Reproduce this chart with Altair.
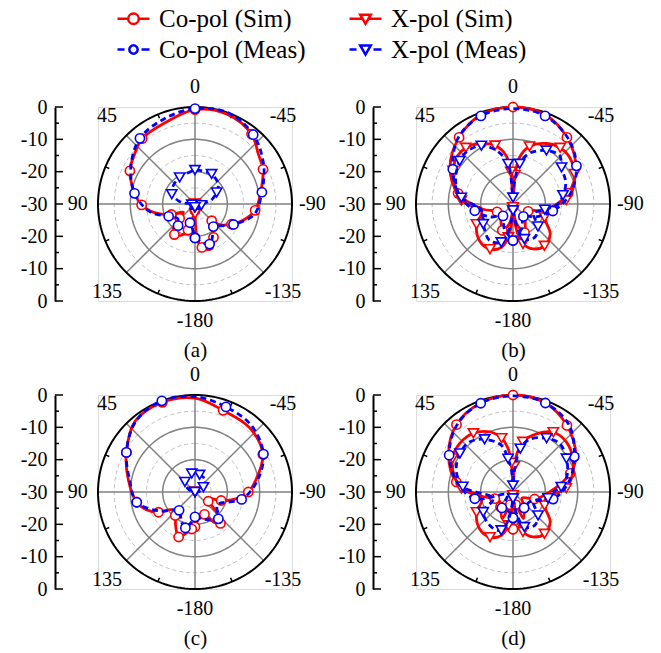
import altair as alt
import pandas as pd

FONT = "Liberation Serif, Times New Roman, Times, serif"
RED = "#ff0000"
BLUE = "#0000ff"
GRAY = "#808080"
LIGHT = "#c0c0c0"

SERIES = ["Co-pol (Sim)", "X-pol (Sim)", "Co-pol (Meas)", "X-pol (Meas)"]
PANEL_LABELS = ["(a)", "(b)", "(c)", "(d)"]

# ---------------- panel (a) ----------------
A_CO_SIM_ANG = [-180, -176, -171, -160, -151, -140, -135, -130, -119, -110, -96, -80, -63, -52, -39, -20, 0,
                20, 39, 50, 63, 80, 91, 102, 114, 125, 133, 138, 146, 157, 165, 171, 180]
A_CO_SIM_DB = [-28, -19, -16.4, -15.2, -18.2, -22, -22.7, -20, -17.1, -14.6, -11.3, -9.4, -6.4, -5.1, -2.2, -0.5, -0.8,
               -3.2, -4, -5.7, -7.4, -11.1, -13.5, -17.2, -22, -25.6, -23.5, -20, -18.6, -19.5, -21.7, -25.8, -28]
A_CO_MEAS_ANG = [-180, -170, -160, -150, -141, -130, -118, -100, -80, -60, -40, -20, 0, 20, 40, 59, 80, 100, 115,
                 130, 142, 155, 165, 175, 180]
A_CO_MEAS_DB = [-19.5, -18, -16.8, -19, -21, -19.5, -16.5, -11.4, -9, -5.5, -2, 0, -0.5, -2, -3.5, -6.9, -11, -15.9,
                -21, -23, -21.5, -22, -24, -22, -19.5]
A_X_SIM_ANG = [-180, -150, -120, -90, -60, -30, 0, 30, 60, 90, 120, 150, 170, 180]
A_X_SIM_DB = [-27, -30, -30, -30, -30, -30, -30, -30, -30, -30, -30, -30, -29, -27]
A_X_MEAS_ANG = [-180, -135, -100, -75, -62, -49, -29, -10, 0, 10, 30, 50, 67, 83, 100, 135, 180]
A_X_MEAS_DB = [-29, -28, -28, -24.6, -22.4, -20.5, -19.4, -19.5, -19.5, -20, -20.5, -21.2, -22.2, -25.7, -29, -28, -29]

# ---------------- panel (b) ----------------
B_CO_SIM_ANG = [-180, -170, -158, -140, -116, -100, -79, -60, -39, -20, 0, 20, 39, 60, 79, 100, 116, 140, 158, 170, 180]
B_CO_SIM_DB = [-29, -24, -20.5, -24, -24.8, -19.5, -12.6, -7.5, -3.5, -0.7, 0, -0.7, -3.5, -7.5, -12.7, -20.6, -24.5,
               -24, -21.2, -24, -29]
B_CO_MEAS_ANG = [-180, -160, -140, -120, -100, -80, -59, -40, -20, 0, 20, 40, 60, 80, 100, 120, 140, 160, 180]
B_CO_MEAS_DB = [-18.7, -22, -25, -22, -17.5, -12, -7.1, -3.5, -1, -0.5, -1, -3.5, -8.5, -13, -18, -22, -25.2, -22, -18.7]
B_X_SIM_ANG = [-180, -172, -166, -156, -143, -129, -113, -100, -86, -76, -64, -50, -40, -29, -16, -8, -4, 0, 4, 8,
               17, 29, 40, 49, 61, 74, 86, 104, 119, 138, 153, 165, 172, 177, 180]
B_X_SIM_DB = [-29, -21.7, -17.3, -14.8, -13.8, -15.2, -19.4, -19.5, -13.5, -10.9, -8.8, -7.3, -7.3, -8.6, -11.5, -15.4,
              -21, -29, -20, -14.9, -11.1, -8.6, -7.3, -7.3, -8.8, -11.2, -14, -20, -17.1, -14.6, -14.3, -16.1, -19.6,
              -25, -29]
B_X_MEAS_ANG = [-180, -170, -162, -147, -132, -115, -100, -90, -80, -68, -53, -44, -32, -18, -9.5, -4, 0, 4, 7, 17,
                28.5, 40, 51, 69, 83, 100, 124, 147, 163, 171, 180]
B_X_MEAS_DB = [-28, -22.7, -18.6, -17.7, -19.6, -23, -20, -16.1, -14.3, -12.4, -11.2, -9.2, -10.5, -13.5, -17.4, -23,
               -28, -23, -17.5, -12.7, -9.5, -8.4, -8.8, -11, -13.9, -20, -18.9, -16.6, -17.6, -21.7, -28]

# ---------------- panel (c) ----------------
C_CO_SIM_ANG = [-180, -170, -157, -148, -141, -133, -125, -117, -108, -100, -90, -80, -61, -40, -19, 0, 20, 40, 60,
                80, 100, 110, 119, 128, 140, 150, 160, 168, 175, 180]
C_CO_SIM_DB = [-19.2, -22, -22.5, -19, -17.5, -21, -25, -26, -21.5, -17.4, -13.5, -11.1, -6, -3.9, -3.3, -1, -0.5,
               -1.3, -5.5, -9.1, -11.7, -14, -17.1, -21, -20.5, -18, -15.2, -17, -18.5, -19.2]
C_CO_MEAS_ANG = [-180, -160, -139, -120, -99, -80, -61, -40, -20, 0, 20, 40, 60, 80, 100, 118, 139, 155, 165, 180]
C_CO_MEAS_DB = [-22.3, -21, -19, -22, -15.4, -10.5, -5.8, -3, -2, -0.5, 0, -1.5, -5.5, -9.5, -11.7, -17.5, -22.5,
                -20, -18.5, -22.3]
C_X_SIM_ANG = [-180, -120, -60, 0, 60, 120, 180]
C_X_SIM_DB = [-30, -30, -30, -29, -30, -30, -30]
C_X_MEAS_ANG = [-180, -90, -60, -38, -15, 0, 10, 30, 45, 70, 100, 180]
C_X_MEAS_DB = [-30, -29, -27, -25, -24.5, -24.3, -24.2, -25, -25.6, -28, -30, -30]

# ---------------- panel (d) ----------------
D_CO_SIM_ANG = [-180, -174, -168, -159, -145, -123, -108, -91, -72, -60, -39, -20, 0, 20, 40, 60, 80, 97, 110, 120,
                140, 158, 168, 174, 180]
D_CO_SIM_DB = [-18.5, -24, -26, -21.2, -24, -26.6, -23, -19, -11.4, -7.5, -3.5, -0.7, 0, -0.7, -2.8, -7, -12.2, -20,
               -24, -25, -24, -21.1, -26, -24, -18.5]
D_CO_MEAS_ANG = [-180, -165, -145, -120, -100, -80, -60, -40, -20, 0, 20, 40, 60, 80, 100, 117, 145, 165, 180]
D_CO_MEAS_DB = [-22, -24, -24, -24, -17.4, -12.5, -8.1, -3, -0.7, -0.3, -0.8, -3, -7.2, -12.5, -18, -28, -24, -24, -22]
D_X_SIM_ANG = [-180, -172, -166, -156, -143, -129, -113, -100, -86, -74, -61, -47, -34, -22, -11, -6, -3, 0, 3, 7,
               12, 21, 34, 48, 61, 76, 86, 104, 119, 138, 153, 165, 172, 177, 180]
D_X_SIM_DB = [-29, -21.7, -17.3, -14.8, -13.8, -15.2, -19.4, -19.5, -13.5, -10.9, -8.8, -7.4, -7.7, -10.6, -14.2, -18,
              -22, -29, -21, -16, -13, -10.1, -8.1, -7.7, -8.6, -11.4, -14, -20, -17.1, -14.6, -14.3, -16.1, -19.6,
              -25, -29]
D_X_MEAS_ANG = [-180, -170, -162, -147, -133, -115, -100, -90, -84, -73, -58, -44, -32, -17.6, -9.6, -4, 0, 4, 8.5,
                14, 28.3, 41, 54, 69, 84, 108, 124, 148, 163, 171, 180]
D_X_MEAS_DB = [-28, -22.7, -18.6, -17.7, -19.4, -23, -19, -17.6, -15, -12.5, -10.5, -9.2, -10.4, -12.9, -16.4, -23,
               -28, -23, -19.6, -15.1, -11.5, -9.5, -9.7, -11.2, -14.4, -23.5, -18.9, -17.3, -17.6, -21.7, -28]

PANEL_DATA = [
    {"Co-pol (Sim)": (A_CO_SIM_ANG, A_CO_SIM_DB), "X-pol (Sim)": (A_X_SIM_ANG, A_X_SIM_DB),
     "Co-pol (Meas)": (A_CO_MEAS_ANG, A_CO_MEAS_DB), "X-pol (Meas)": (A_X_MEAS_ANG, A_X_MEAS_DB)},
    {"Co-pol (Sim)": (B_CO_SIM_ANG, B_CO_SIM_DB), "X-pol (Sim)": (B_X_SIM_ANG, B_X_SIM_DB),
     "Co-pol (Meas)": (B_CO_MEAS_ANG, B_CO_MEAS_DB), "X-pol (Meas)": (B_X_MEAS_ANG, B_X_MEAS_DB)},
    {"Co-pol (Sim)": (C_CO_SIM_ANG, C_CO_SIM_DB), "X-pol (Sim)": (C_X_SIM_ANG, C_X_SIM_DB),
     "Co-pol (Meas)": (C_CO_MEAS_ANG, C_CO_MEAS_DB), "X-pol (Meas)": (C_X_MEAS_ANG, C_X_MEAS_DB)},
    {"Co-pol (Sim)": (D_CO_SIM_ANG, D_CO_SIM_DB), "X-pol (Sim)": (D_X_SIM_ANG, D_X_SIM_DB),
     "Co-pol (Meas)": (D_CO_MEAS_ANG, D_CO_MEAS_DB), "X-pol (Meas)": (D_X_MEAS_ANG, D_X_MEAS_DB)},
]

# grid / axis values
RADIAL_MAJOR = [-30, -20, -10, 0, 10, 20, 30]
RADIAL_MINOR = [-25, -15, -5, 5, 15, 25]
RING_DASHED = [-25, -15, -5]
RING_SOLID = [-20, -10]
RING_OUTER = [0]
SPOKE_ANGLES = [0, 45, 90, 135, 180, 225, 270, 315]
OUTER_TICK_ANGLES = [22.5, 67.5, 112.5, 157.5, 202.5, 247.5, 292.5, 337.5]
ANGLE_TICKS = [0, 45, 90, 135, 180, -135, -90, -45]
ANGLE_TEXT = ["0", "45", "90", "135", "-180", "-135", "-90", "-45"]

STYLE = {
    "Co-pol (Sim)": dict(color=RED, dash=None, shape="circle", size=85),
    "X-pol (Sim)": dict(color=RED, dash=None, shape="triangle-down", size=105),
    "Co-pol (Meas)": dict(color=BLUE, dash=[6, 4], shape="circle", size=85),
    "X-pol (Meas)": dict(color=BLUE, dash=[6, 4], shape="triangle-down", size=105),
}
LEGEND_PATHS = [
    "M-1,0L-0.33,0M0.33,0L1,0M0.33,0A0.33,0.33 0 1 1 -0.33,0A0.33,0.33 0 1 1 0.33,0Z",
    "M-1,0L-0.2,0M0.2,0L1,0M-0.33,-0.25L0.33,-0.25L0,0.32Z",
    "M-1,0L-0.56,0M0.5,0L1,0M0.26,0A0.26,0.26 0 1 1 -0.26,0A0.26,0.26 0 1 1 0.26,0Z",
    "M-1,0L-0.56,0M0.5,0L1,0M-0.33,-0.25L0.33,-0.25L0,0.32Z",
]

ring_rows = []
for lvl in RING_DASHED + RING_SOLID + RING_OUTER:
    kind = "dashed" if lvl in RING_DASHED else ("solid" if lvl in RING_SOLID else "outer")
    for a in range(0, 361, 2):
        ring_rows.append({"level": lvl, "kind": kind, "ang": a})
ring_df = pd.DataFrame(ring_rows)
spoke_df = pd.DataFrame({"ang": SPOKE_ANGLES})
otick_df = pd.DataFrame({"ang": OUTER_TICK_ANGLES})
angle_df = pd.DataFrame({"ang": ANGLE_TICKS, "text": ANGLE_TEXT})
major_df = pd.DataFrame({"v": RADIAL_MAJOR})
minor_df = pd.DataFrame({"v": RADIAL_MINOR})


def polar(chart, rexpr):
    return chart.transform_calculate(
        r=rexpr,
        x="-datum.r * sin(datum.ang * PI / 180)",
        y="datum.r * cos(datum.ang * PI / 180)",
    )


def panel(idx):
    yaxis = alt.Axis(values=RADIAL_MAJOR, labelExpr="abs(datum.value) - 30", orient="left", offset=43,
                     ticks=False, domain=True, domainColor="black", domainWidth=2, labelPadding=8,
                     labelFont=FONT, labelFontSize=20, labelColor="black", grid=False, title=None,
                     labelOverlap=False)
    xaxis = alt.Axis(title=PANEL_LABELS[idx], orient="bottom", labels=False, ticks=False, domain=False,
                     grid=False, titlePadding=38, titleFont=FONT, titleFontSize=21, titleFontWeight="normal",
                     titleColor="black")

    def X(f):
        return alt.X(f, type="quantitative", scale=alt.Scale(domain=[-30, 30], nice=False, zero=False), axis=xaxis)

    def Y(f):
        return alt.Y(f, type="quantitative", scale=alt.Scale(domain=[-30, 30], nice=False, zero=False), axis=yaxis)

    layers = []
    rings = polar(alt.Chart(ring_df), "datum.level + 30")
    layers.append(rings.transform_filter("datum.kind == 'dashed'").mark_line(
        color=LIGHT, strokeWidth=1, strokeDash=[4, 3]).encode(
        x=X("x"), y=Y("y"), detail="level:N", order="ang:Q"))
    layers.append(rings.transform_filter("datum.kind == 'solid'").mark_line(
        color=GRAY, strokeWidth=1.5).encode(x=X("x"), y=Y("y"), detail="level:N", order="ang:Q"))
    layers.append(alt.Chart(spoke_df).transform_calculate(
        x0="0", y0="0", x1="-30 * sin(datum.ang * PI / 180)", y1="30 * cos(datum.ang * PI / 180)"
    ).mark_rule(color=GRAY, strokeWidth=1.5).encode(x=X("x0"), y=Y("y0"), x2="x1:Q", y2="y1:Q"))
    layers.append(rings.transform_filter("datum.kind == 'outer'").mark_line(
        color="black", strokeWidth=2).encode(x=X("x"), y=Y("y"), detail="level:N", order="ang:Q"))
    layers.append(alt.Chart(otick_df).transform_calculate(
        x0="-28.7 * sin(datum.ang * PI / 180)", y0="28.7 * cos(datum.ang * PI / 180)",
        x1="-30 * sin(datum.ang * PI / 180)", y1="30 * cos(datum.ang * PI / 180)"
    ).mark_rule(color="black", strokeWidth=1.5).encode(x=X("x0"), y=Y("y0"), x2="x1:Q", y2="y1:Q"))
    layers.append(alt.Chart(major_df).mark_rule(color="black", strokeWidth=1.5).encode(
        y=Y("v:Q"), x=alt.value(-43), x2=alt.value(-35)))
    layers.append(alt.Chart(minor_df).mark_rule(color="black", strokeWidth=1.5).encode(
        y=Y("v:Q"), x=alt.value(-43), x2=alt.value(-39)))
    layers.append(polar(alt.Chart(angle_df), "36.3 + 2.2 * abs(sin(2 * datum.ang * PI / 180))").mark_text(
        font=FONT, fontSize=20, color="black", align="center", baseline="middle").encode(
        x=X("x"), y=Y("y"), text="text:N"))

    rows = []
    for s in SERIES:
        angs, dbs = PANEL_DATA[idx][s]
        for i, (a, d) in enumerate(zip(angs, dbs)):
            rows.append({"series": s, "i": i, "ang": a, "db": d})
    sdf = pd.DataFrame(rows)
    for s in SERIES:
        st = STYLE[s]
        base = polar(alt.Chart(sdf).transform_filter(alt.datum.series == s), "max(datum.db + 30, 0)")
        lk = dict(color=st["color"], strokeWidth=2.8, interpolate="catmull-rom")
        if st["dash"]:
            lk["strokeDash"] = st["dash"]
        layers.append(base.mark_line(**lk).encode(x=X("x"), y=Y("y"), order="i:Q"))
        layers.append(base.transform_filter("datum.i % 2 == 0").mark_point(
            shape=st["shape"], size=st["size"], filled=True, fill="white", stroke=st["color"],
            strokeWidth=1.6, opacity=1).encode(x=X("x"), y=Y("y")))

    if idx == 0:
        leg = alt.Legend(orient="none", legendX=18, legendY=-106, columns=2, direction="horizontal",
                         title=None, labelFont=FONT, labelFontSize=25, labelColor="black", symbolSize=1024,
                         symbolStrokeWidth=2.5, labelOffset=8, columnPadding=38, rowPadding=-2,
                         padding=0, gridAlign="all", labelLimit=400)
        layers.append(alt.Chart(pd.DataFrame({"series": SERIES})).transform_filter("false").mark_point(
            filled=False, opacity=1).encode(
            shape=alt.Shape("series:N", scale=alt.Scale(domain=SERIES, range=LEGEND_PATHS), legend=leg),
            color=alt.Color("series:N", scale=alt.Scale(domain=SERIES, range=[RED, RED, BLUE, BLUE]),
                            legend=leg)))

    return alt.layer(*layers).properties(width=194, height=194)


chart = alt.concat(
    panel(0), panel(1), panel(2), panel(3),
    columns=2, spacing={"row": 94, "column": 124}, bounds="flush",
    padding={"left": 19, "top": 1, "right": 5, "bottom": 5},
).configure_view(strokeWidth=0).configure(background="white", font=FONT)

chart.save("out.html", embed_options={"renderer": "svg", "actions": False})
